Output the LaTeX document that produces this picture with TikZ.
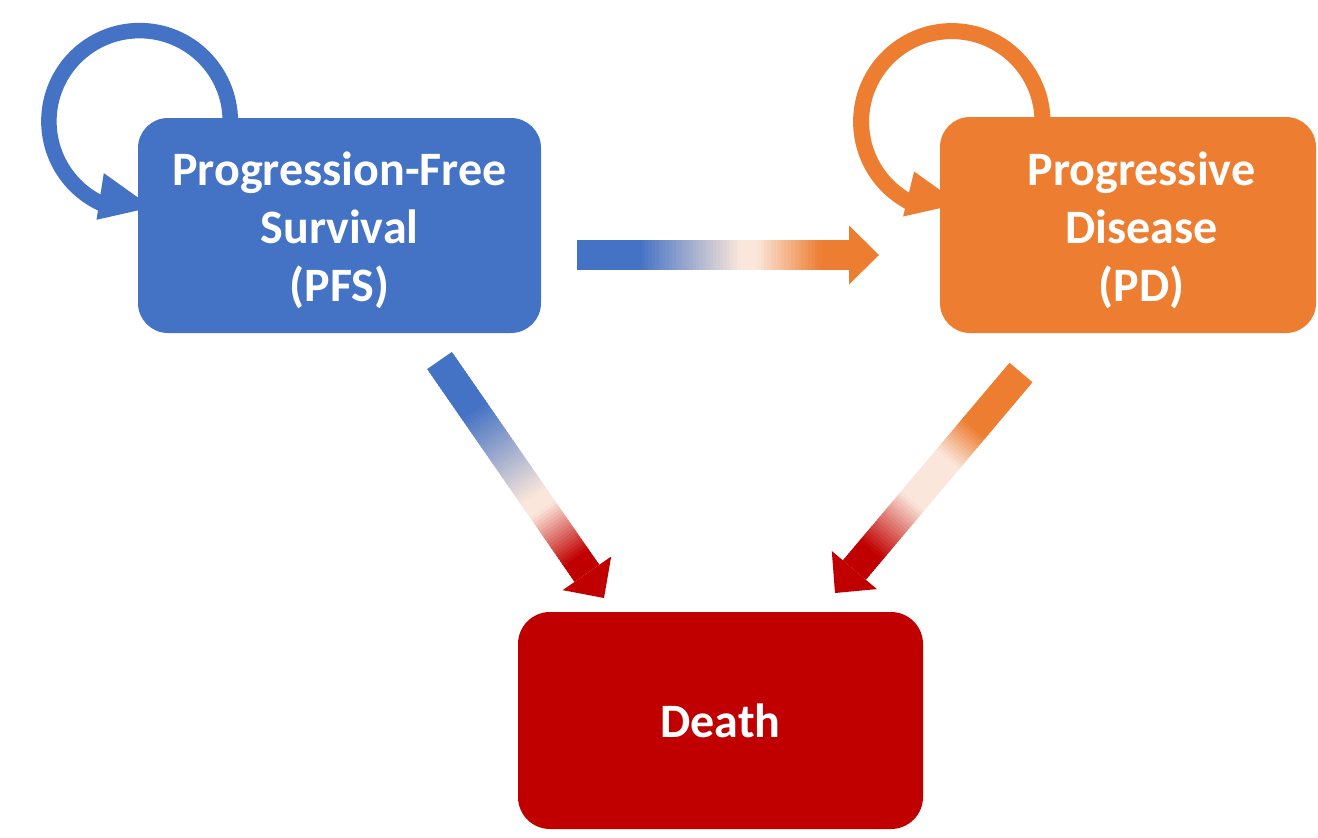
\documentclass[tikz,border=0pt]{standalone}
\usepackage{fontspec}
\setmainfont{Carlito}
\usetikzlibrary{calc,backgrounds}
\definecolor{cblue}{RGB}{68,114,196}
\definecolor{corange}{RGB}{237,125,49}
\definecolor{cred}{RGB}{192,0,0}
\definecolor{gapale}{RGB}{250,230,218}
\tikzset{
  statebox/.style={rounded corners=30pt, text=white, inner sep=0pt,
    font=\fontsize{48}{58}\selectfont\bfseries, align=center},
  loopline/.style={line width=15.5pt},
}
\newcommand{\TopStrut}{\rule{0pt}{44pt}}
% #1 start, #2 tip, #3 start colour, #4 end colour, #5..#8 stops along the shaft
\newcommand{\GradArrow}[8]{%
  \coordinate (gah) at ($(#2)!30pt!(#1)$);
  \foreach \k in {0,...,79}{%
    \pgfmathsetmacro{\GAta}{\k/80}%
    \pgfmathsetmacro{\GAtb}{min(1,(\k+1.6)/80)}%
    \pgfmathsetmacro{\GAt}{(\k+0.5)/80}%
    \pgfmathsetmacro{\GAp}{max(0,min(100,100*(#6-\GAt)/(#6-#5)))}%
    \pgfmathsetmacro{\GAq}{max(0,min(100,100*(\GAt-#7)/(#8-#7)))}%
    \ifdim\GAt pt<#6pt\relax
      \colorlet{gac}{#3!\GAp!gapale}%
    \else
      \colorlet{gac}{#4!\GAq!gapale}%
    \fi
    \fill[gac] ($(#1)!\GAta!(gah)!15pt!90:(#2)$) -- ($(#1)!\GAtb!(gah)!15pt!90:(#2)$)
      -- ($(#1)!\GAtb!(gah)!15pt!-90:(#2)$) -- ($(#1)!\GAta!(gah)!15pt!-90:(#2)$) -- cycle;
  }%
  \fill[#4] ($(gah)!29.5pt!90:(#2)$) -- (#2) -- ($(gah)!29.5pt!-90:(#2)$) -- cycle;
}
\begin{document}
\begin{tikzpicture}[x=1pt,y=1pt]
\useasboundingbox (0,0) rectangle (1318,-838);
% states
\node[statebox, fill=cblue, minimum width=403pt, minimum height=215pt] (pfs) at (339.5,-225.5)
  {\TopStrut Progression-Free\\Survival\\(PFS)};
\node[statebox, fill=corange, minimum width=376pt, minimum height=216pt] (pd) at (1128,-225)
  {\TopStrut\hspace*{27pt}Progressive\\\hspace*{27pt}Disease\\\hspace*{27pt}(PD)};
\node[statebox, fill=cred, rounded corners=32pt, minimum width=405pt, minimum height=217pt] (death) at (720.5,-720.5)
  {Death};
% self loops (behind the boxes)
\begin{scope}[on background layer]
  \draw[cblue, loopline] ($(pfs.north west)+(92.5,-3.5)$) arc[start angle=0, end angle=245, radius=90.7];
  \fill[cblue] ($(pfs.north west)+(-34,-55.3)$) -- ($(pfs.north west)+(13.8,-89.5)$)
    -- ($(pfs.north west)+(-41.3,-102)$) -- cycle;
  \draw[corange, loopline, line width=16pt] ($(pd.north west)+(102.7,-5)$) arc[start angle=0, end angle=243, radius=90.7];
  \fill[corange] ($(pd.north west)+(-25.7,-54.7)$) -- ($(pd.north west)+(19.5,-87)$)
    -- ($(pd.north west)+(-36.7,-99.7)$) -- cycle;
\end{scope}
% transitions
\coordinate (h0) at (577,-255);
\coordinate (h1) at (879,-255);
\coordinate (l0) at (439.5,-360.5);
\coordinate (l1) at (604,-598);
\coordinate (r0) at (1021,-372.5);
\coordinate (r1) at (835,-593);
\GradArrow{h0}{h1}{cblue}{corange}{0.23}{0.6}{0.66}{0.9}
\GradArrow{l0}{l1}{cblue}{cred}{0.23}{0.64}{0.7}{0.93}
\GradArrow{r0}{r1}{corange}{cred}{0.28}{0.44}{0.65}{0.9}
\end{tikzpicture}
\end{document}
